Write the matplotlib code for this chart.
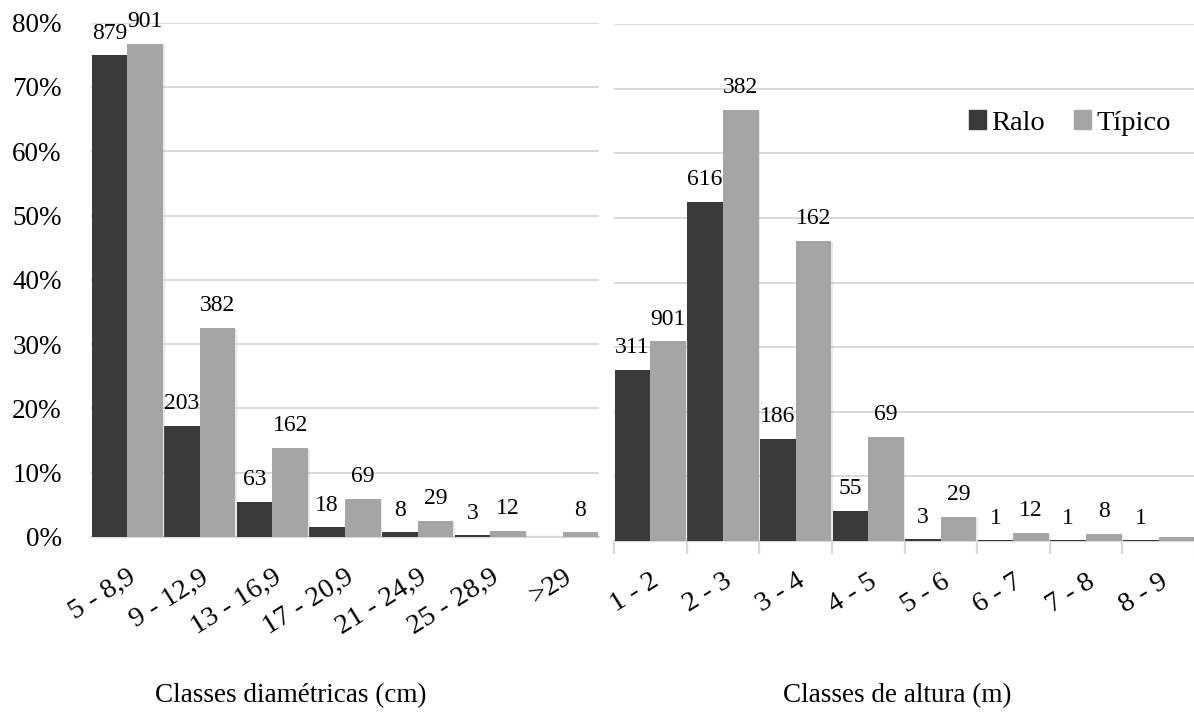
import matplotlib
matplotlib.use("Agg")
import matplotlib.pyplot as plt
import matplotlib.patheffects as pe
from matplotlib.patches import Rectangle
from matplotlib.ticker import FuncFormatter, FixedLocator
import numpy as np

plt.rcParams["font.family"] = ["Liberation Serif", "DejaVu Serif"]

# diameter classes (cm)
diam_classes = ["5 - 8,9", "9 - 12,9", "13 - 16,9", "17 - 20,9", "21 - 24,9", "25 - 28,9", ">29"]
diam_ralo_pct = [74.9, 17.3, 5.4, 1.5, 0.7, 0.26, 0.0]
diam_tipico_pct = [76.7, 32.5, 13.8, 5.9, 2.5, 1.0, 0.7]
diam_ralo_n = [879, 203, 63, 18, 8, 3, None]
diam_tipico_n = [901, 382, 162, 69, 29, 12, 8]

# height classes (m)
alt_classes = ["1 - 2", "2 - 3", "3 - 4", "4 - 5", "5 - 6", "6 - 7", "7 - 8", "8 - 9"]
alt_ralo_pct = [26.5, 52.5, 15.8, 4.7, 0.26, 0.09, 0.09, 0.09]
alt_tipico_pct = [30.9, 66.7, 46.4, 16.1, 3.7, 1.3, 1.1, 0.6]
alt_ralo_n = [311, 616, 186, 55, 3, 1, 1, 1]
alt_tipico_n = [901, 382, 162, 69, 29, 12, 8, None]

series_names = ["Ralo", "Típico"]
colors = ["#3a3a3a", "#a5a5a5"]
grid_color = "#d9d9d9"

W, H = 1194, 715
fig = plt.figure(figsize=(W / 100, H / 100), dpi=100)


def px_axes(x0, x1, y_top, y_bot):
    return fig.add_axes([x0 / W, 1 - y_bot / H, (x1 - x0) / W, (y_bot - y_top) / H])


ax1 = px_axes(91, 599, 22.6, 537)
ax2 = px_axes(614, 1195, 24, 541)

shadow = [pe.SimplePatchShadow(offset=(1.2, -0.8), shadow_rgbFace="#999999", alpha=0.2), pe.Normal()]


def draw_panel(ax, classes, ralo, tipico, ralo_n, tipico_n, show_y, ticks):
    x = np.arange(len(classes))
    w = 0.49
    for vals, counts, off, c in [(ralo, ralo_n, -w / 2, colors[0]), (tipico, tipico_n, w / 2, colors[1])]:
        bars = ax.bar(x + off, vals, width=w, color=c, zorder=3)
        for b in bars:
            b.set_path_effects(shadow)
        for xi, v, n in zip(x, vals, counts):
            if n is None:
                continue
            ax.annotate(str(n), (xi + off, v), xytext=(0, 8.5), textcoords="offset points",
                        ha="center", va="bottom", fontsize=17, zorder=4)

    ax.set_xlim(-0.5, len(classes) - 0.5)
    ax.set_ylim(0, 80)
    ax.yaxis.set_major_locator(FixedLocator(np.arange(0, 81, 10)))
    ax.grid(axis="y", color=grid_color, linewidth=1.4, zorder=0)
    for s in ["top", "right", "left"]:
        ax.spines[s].set_visible(False)
    ax.spines["bottom"].set_color(grid_color)
    ax.spines["bottom"].set_linewidth(1.6)
    ax.spines["bottom"].set_zorder(2)

    if show_y:
        ax.yaxis.set_major_formatter(FuncFormatter(lambda v, p: f"{v:.0f}%"))
        ax.tick_params(axis="y", length=0, pad=21, labelsize=19.5)
    else:
        ax.tick_params(axis="y", left=False, length=0, labelleft=False)

    ax.set_xticks(x)
    ax.set_xticklabels(classes, rotation=32, ha="right", rotation_mode="anchor", fontsize=20.5)
    ax.tick_params(axis="x", length=0, pad=20)
    if ticks:
        ax.set_xticks(np.arange(-0.5, len(classes)), minor=True)
        ax.tick_params(axis="x", which="minor", length=9, width=1.6, color=grid_color)


draw_panel(ax1, diam_classes, diam_ralo_pct, diam_tipico_pct, diam_ralo_n, diam_tipico_n, True, False)
draw_panel(ax2, alt_classes, alt_ralo_pct, alt_tipico_pct, alt_ralo_n, alt_tipico_n, False, True)

# keep the gap between the two panels clean
fig.add_artist(Rectangle((600 / W, 1 - 538 / H), 13.2 / W, 538 / H,
                         transform=fig.transFigure, facecolor="white", edgecolor="none", zorder=10))

handles = [plt.Rectangle((0, 0), 1, 1, color=c) for c in colors]
ax2.legend(handles, series_names, loc="center", bbox_to_anchor=(1070 / W, 1 - 123 / H),
           bbox_transform=fig.transFigure, ncol=2, frameon=False, fontsize=20.5,
           handlelength=0.6, handleheight=0.6, handletextpad=0.2, columnspacing=1.0)

fig.text(291 / W, 1 - 696 / H, "Classes diamétricas (cm)", ha="center", va="center", fontsize=19.5)
fig.text(897 / W, 1 - 696 / H, "Classes de altura (m)", ha="center", va="center", fontsize=19.5)

fig.savefig("out.png", dpi=100)
